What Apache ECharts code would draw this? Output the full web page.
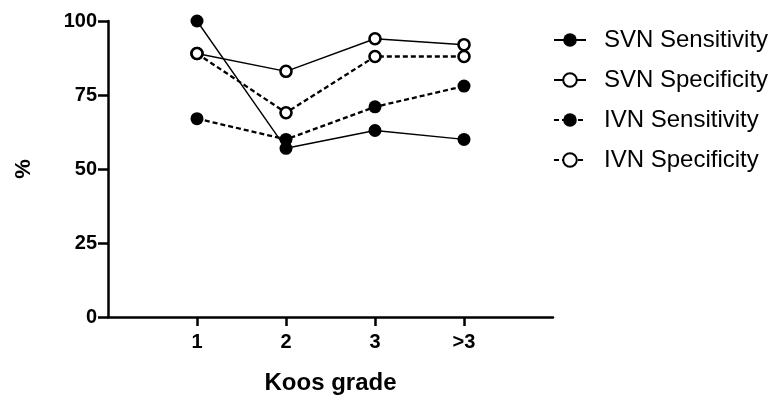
<!DOCTYPE html>
<html>
<head>
<meta charset="utf-8">
<script src="https://cdn.jsdelivr.net/npm/echarts@6/dist/echarts.min.js"></script>
<style>
  html, body { margin: 0; padding: 0; background: #fff; }
  #chart { width: 771px; height: 396px; }
</style>
</head>
<body>
<div id="chart"></div>
<script>
// Koos grade positions on the x axis and their labels
const gradePos = [1, 2, 3, 4];
const gradeLabels = ['1', '2', '3', '>3'];

const svnSensitivity = [100, 57, 63, 60];
const svnSpecificity = [89, 83, 94, 92];
const ivnSensitivity = [67, 60, 71, 78];
const ivnSpecificity = [89, 69, 88, 88];

const yTicks = [0, 25, 50, 75, 100];

const FONT = '"Liberation Sans", Arial, sans-serif';

const pts = vals => vals.map((v, i) => [gradePos[i], v]);

const makeSeries = (name, vals, open, dashed) => ({
  name,
  type: 'line',
  data: pts(vals),
  symbol: 'circle',
  symbolSize: open ? 11 : 13,
  showSymbol: true,
  lineStyle: {
    color: '#000',
    width: dashed ? 2.3 : 1.4,
    type: dashed ? [5, 3] : 'solid'
  },
  itemStyle: open
    ? { color: '#fff', borderColor: '#000', borderWidth: 2.6 }
    : { color: '#000', borderColor: '#000', borderWidth: 0 },
  emphasis: { disabled: true },
  animation: false
});

const chart = echarts.init(document.getElementById('chart'));

chart.setOption({
  animation: false,
  grid: { left: 108, right: 218, top: 21, bottom: 79, outerBoundsMode: 'none' },
  legend: {
    orient: 'vertical',
    left: 553,
    top: 28,
    padding: 0,
    itemGap: 16,
    itemWidth: 32,
    itemHeight: 17,
    textStyle: {
      fontFamily: FONT,
      fontSize: 24,
      lineHeight: 24,
      color: '#000',
      padding: [0, 0, 0, 13]
    },
    data: ['SVN Sensitivity', 'SVN Specificity', 'IVN Sensitivity', 'IVN Specificity']
  },
  xAxis: {
    type: 'value',
    min: 0,
    max: 5,
    interval: 1,
    splitLine: { show: false },
    axisLine: { show: true, onZero: false, lineStyle: { color: '#000', width: 2.5 } },
    axisTick: {
      show: true,
      length: 9,
      customValues: gradePos,
      lineStyle: { color: '#000', width: 2.5 }
    },
    axisLabel: {
      customValues: gradePos,
      formatter: v => gradeLabels[gradePos.indexOf(v)] || '',
      fontFamily: FONT,
      fontWeight: 'bold',
      fontSize: 20,
      color: '#000',
      margin: 15
    },
    name: 'Koos grade',
    nameLocation: 'middle',
    nameGap: 54,
    nameTextStyle: { fontFamily: FONT, fontWeight: 'bold', fontSize: 24, color: '#000' }
  },
  yAxis: {
    type: 'value',
    min: 0,
    max: 100,
    interval: 25,
    splitLine: { show: false },
    axisLine: { show: true, lineStyle: { color: '#000', width: 2.5 } },
    axisTick: { show: true, length: 10, lineStyle: { color: '#000', width: 2.5 } },
    axisLabel: {
      customValues: yTicks,
      fontFamily: FONT,
      fontWeight: 'bold',
      fontSize: 20,
      color: '#000',
      margin: 11
    },
    name: '%',
    nameLocation: 'middle',
    nameGap: 73,
    nameRotate: 90,
    nameTextStyle: { fontFamily: FONT, fontWeight: 'bold', fontSize: 22, color: '#000' }
  },
  series: [
    makeSeries('SVN Sensitivity', svnSensitivity, false, false),
    makeSeries('SVN Specificity', svnSpecificity, true, false),
    makeSeries('IVN Sensitivity', ivnSensitivity, false, true),
    makeSeries('IVN Specificity', ivnSpecificity, true, true)
  ]
});
</script>
</body>
</html>
